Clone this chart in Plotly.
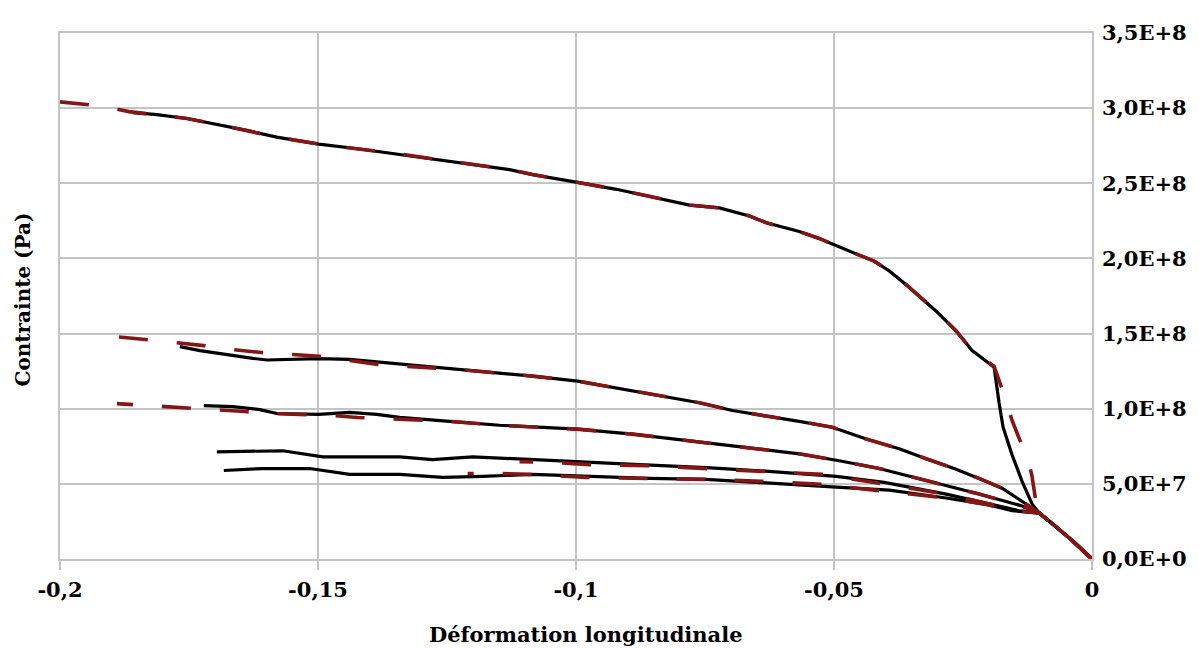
import plotly.graph_objects as go

# ---- axis ticks ----
x_tickvals = [-0.2, -0.15, -0.1, -0.05, 0.0]
x_ticktext = ["-0,2", "-0,15", "-0,1", "-0,05", "0"]
y_tickvals = [0, 0.5e8, 1.0e8, 1.5e8, 2.0e8, 2.5e8, 3.0e8, 3.5e8]
y_ticktext = ["0,0E+0", "5,0E+7", "1,0E+8", "1,5E+8", "2,0E+8", "2,5E+8", "3,0E+8", "3,5E+8"]

# ---- solid black curves (strain, stress in MPa) ----
c1_x = [-0.18587, -0.18122, -0.17541, -0.17038, -0.16380, -0.15799, -0.14985, -0.14192, -0.13417,
        -0.12778, -0.12120, -0.11288, -0.10842, -0.09971, -0.09216, -0.08577, -0.07802, -0.07222,
        -0.06641, -0.06312, -0.05673, -0.05286, -0.04976, -0.04511, -0.04221, -0.03930, -0.03601,
        -0.03311, -0.03020, -0.02633, -0.02323, -0.01897, -0.01801, -0.01723, -0.01549, -0.01355,
        -0.01162, -0.01026, -0.00774, -0.00387, 0.0]
c1_y = [297.0, 295.7, 293.1, 289.8, 285.2, 280.7, 276.1, 272.8, 269.5,
        266.3, 263.0, 259.1, 255.8, 250.6, 246.0, 241.4, 235.5, 233.6,
        228.3, 223.7, 217.9, 213.3, 208.7, 202.2, 198.2, 191.7, 182.5,
        174.0, 164.9, 151.8, 138.7, 127.6, 104.0, 87.7, 69.3, 51.7,
        36.6, 30.7, 23.6, 12.4, 0.0]

c2_x = [-0.17677, -0.17289, -0.16651, -0.16263, -0.15992, -0.14985, -0.14385, -0.13417, -0.12120,
        -0.10842, -0.09971, -0.08906, -0.07609, -0.06970, -0.05673, -0.05034, -0.04376, -0.03737,
        -0.03214, -0.02672, -0.02188, -0.01743, -0.01278, -0.01026, -0.00774, -0.00387, 0.0]
c2_y = [141.3, 138.7, 135.4, 133.5, 132.4, 133.3, 132.8, 129.5, 125.6,
        121.7, 118.4, 111.9, 104.0, 98.8, 91.6, 87.7, 79.8, 73.3,
        66.7, 60.2, 53.6, 47.1, 36.6, 30.7, 23.6, 12.4, 0.0]

c3_x = [-0.17212, -0.16651, -0.16128, -0.15799, -0.14985, -0.14385, -0.13863, -0.13417, -0.12449,
        -0.11481, -0.09971, -0.08906, -0.07609, -0.06641, -0.05673, -0.04898, -0.04124, -0.03156,
        -0.02188, -0.01355, -0.01026, -0.00774, -0.00387, 0.0]
c3_y = [102.1, 101.4, 99.4, 96.8, 96.2, 97.5, 96.2, 94.2, 91.6,
        89.0, 86.4, 83.1, 77.8, 73.9, 70.0, 65.4, 60.2, 51.7,
        43.2, 35.3, 30.7, 23.6, 12.4, 0.0]

c4_x = [-0.16960, -0.15683, -0.15353, -0.14908, -0.13417, -0.12778, -0.12004, -0.11288, -0.09971,
        -0.08770, -0.07473, -0.06196, -0.04957, -0.04027, -0.02827, -0.01994, -0.01413, -0.01026,
        -0.00774, -0.00387, 0.0]
c4_y = [71.3, 72.0, 70.0, 68.0, 68.0, 66.1, 68.0, 66.7, 64.8,
        62.8, 60.8, 58.2, 55.0, 51.0, 43.2, 36.6, 32.1, 30.7,
        23.6, 12.4, 0.0]

c5_x = [-0.16825, -0.16070, -0.15160, -0.14385, -0.13417, -0.12585, -0.11810, -0.10842, -0.09971,
        -0.08577, -0.07473, -0.06196, -0.04957, -0.03930, -0.02827, -0.01994, -0.01549, -0.01026,
        -0.00774, -0.00387, 0.0]
c5_y = [58.9, 60.2, 60.2, 56.3, 56.3, 54.3, 55.0, 56.3, 55.0,
        53.6, 53.0, 50.4, 47.8, 45.8, 40.6, 36.0, 32.1, 30.7,
        23.6, 12.4, 0.0]

# ---- dashed dark-red curves ----
d1_x = [-0.2, -0.19806, -0.19245, -0.18664, -0.18122, -0.17541, -0.17038, -0.16380, -0.15799,
        -0.14985, -0.14192, -0.13417, -0.12778, -0.12120, -0.11288, -0.10842, -0.09971, -0.09216,
        -0.08577, -0.07802, -0.07222, -0.06641, -0.06312, -0.05673, -0.05286, -0.04976, -0.04511,
        -0.04221, -0.03930, -0.03601, -0.03311, -0.03020, -0.02633, -0.02323, -0.01897, -0.01781,
        -0.01684, -0.01549, -0.01413, -0.01316, -0.01220, -0.01162, -0.01123, -0.01084, -0.00987,
        -0.00774, -0.00387, 0.0]
d1_y = [304.2, 303.5, 301.6, 297.7, 295.7, 293.1, 289.8, 285.2, 280.7,
        276.1, 272.8, 269.5, 266.3, 263.0, 259.1, 255.8, 250.6, 246.0,
        241.4, 235.5, 233.6, 228.3, 223.7, 217.9, 213.3, 208.7, 202.2,
        198.2, 191.7, 182.5, 174.0, 164.9, 151.8, 138.7, 128.2, 117.1,
        107.3, 92.2, 79.8, 71.3, 63.5, 55.0, 45.1, 37.3, 30.7,
        23.6, 12.4, 0.0]

d2_x = [-0.18897, -0.18335, -0.17735, -0.17212, -0.16651, -0.16089, -0.15489, -0.14966, -0.14385,
        -0.13843, -0.12120, -0.10842, -0.09971, -0.08906, -0.07609, -0.06970, -0.05673, -0.05034,
        -0.04376, -0.03737, -0.03214, -0.02672, -0.02188, -0.01743, -0.01278, -0.01026, -0.00774,
        -0.00387, 0.0]
d2_y = [147.9, 145.9, 143.9, 142.0, 139.3, 137.4, 136.1, 134.8, 132.1,
        129.5, 125.6, 121.7, 118.4, 111.9, 104.0, 98.8, 91.6, 87.7,
        79.8, 73.3, 66.7, 60.2, 53.6, 47.1, 36.6, 30.7, 23.6,
        12.4, 0.0]

d3_x = [-0.18897, -0.18703, -0.18122, -0.17580, -0.16999, -0.16418, -0.15876, -0.15315, -0.14734,
        -0.14231, -0.13417, -0.12449, -0.11481, -0.09971, -0.08906, -0.07609, -0.06641, -0.05673,
        -0.04898, -0.04124, -0.03156, -0.02188, -0.01355, -0.01026, -0.00774, -0.00387, 0.0]
d3_y = [103.4, 103.4, 102.1, 100.7, 99.4, 98.1, 96.8, 96.2, 95.5,
        94.2, 92.9, 91.6, 89.0, 86.4, 83.1, 77.8, 73.9, 70.0,
        65.4, 60.2, 51.7, 43.2, 35.3, 30.7, 23.6, 12.4, 0.0]

d4_x = [-0.11094, -0.10319, -0.09738, -0.08577, -0.07512, -0.06350, -0.05227, -0.04124, -0.02827,
        -0.01994, -0.01413, -0.01026, -0.00774, -0.00387, 0.0]
d4_y = [64.8, 64.1, 62.8, 62.1, 60.2, 58.2, 56.3, 50.4, 43.2,
        36.6, 32.1, 30.7, 23.6, 12.4, 0.0]

d5_x = [-0.12100, -0.11481, -0.10900, -0.09797, -0.08635, -0.07512, -0.06409, -0.05247, -0.04124,
        -0.02827, -0.01994, -0.01549, -0.01026, -0.00774, -0.00387, 0.0]
d5_y = [56.9, 56.9, 56.3, 54.3, 53.6, 53.0, 51.7, 49.7, 45.8,
        40.6, 36.0, 32.1, 30.7, 23.6, 12.4, 0.0]

BLACK = "#000000"
RED = "#841616"
GRID = "#c4c4c4"
FONT = "DejaVu Serif"

fig = go.Figure()

for xs, ys in [(c1_x, c1_y), (c2_x, c2_y), (c3_x, c3_y), (c4_x, c4_y), (c5_x, c5_y)]:
    fig.add_trace(go.Scatter(
        x=xs[::-1], y=[v * 1e6 for v in ys[::-1]], mode="lines",
        line=dict(color=BLACK, width=3.2), showlegend=False, hoverinfo="skip"))

# dashed curves: the first is traced from its left end, the others from the origin
for i, (xs, ys) in enumerate([(d1_x, d1_y), (d2_x, d2_y), (d3_x, d3_y), (d4_x, d4_y), (d5_x, d5_y)]):
    px = xs if i == 0 else xs[::-1]
    py = ys if i == 0 else ys[::-1]
    fig.add_trace(go.Scatter(
        x=px, y=[v * 1e6 for v in py], mode="lines",
        line=dict(color=RED, width=3.6, dash="29px,29px"), showlegend=False, hoverinfo="skip"))

# the page body adds an 8px margin, so the figure is 8px smaller on each side
fig.update_layout(
    width=1191, height=640,
    margin=dict(l=52, r=106, t=16, b=89),
    paper_bgcolor="white", plot_bgcolor="white",
    font=dict(family=FONT, color="black", size=20),
    xaxis=dict(
        range=[-0.2, 0], tickvals=x_tickvals, ticktext=x_ticktext,
        showgrid=True, gridcolor=GRID, gridwidth=1.5,
        showline=True, mirror=True, linecolor=GRID, linewidth=1.5,
        ticks="outside", ticklen=9, tickcolor=GRID, tickwidth=1.5,
        zeroline=False, ticklabelstandoff=2,
        tickfont=dict(family=FONT, size=21, color="black", weight="bold"),
    ),
    yaxis=dict(
        range=[0, 3.5e8], side="right", tickvals=y_tickvals, ticktext=y_ticktext,
        showgrid=True, gridcolor=GRID, gridwidth=1.5,
        showline=True, mirror=True, linecolor=GRID, linewidth=1.5,
        ticks="", zeroline=False, ticklabelstandoff=4,
        tickfont=dict(family=FONT, size=21, color="black", weight="bold"),
    ),
    annotations=[
        dict(text="Déformation longitudinale", xref="paper", yref="paper",
             x=0.5097, y=-0.144, xanchor="center", yanchor="middle", showarrow=False,
             font=dict(family=FONT, size=21, color="black", weight="bold")),
        dict(text="Contrainte (Pa)", xref="paper", yref="paper",
             x=-0.0358, y=0.4935, xanchor="center", yanchor="middle", showarrow=False,
             textangle=-90,
             font=dict(family=FONT, size=20, color="black", weight="bold")),
    ],
)

fig.write_html("out.html")
